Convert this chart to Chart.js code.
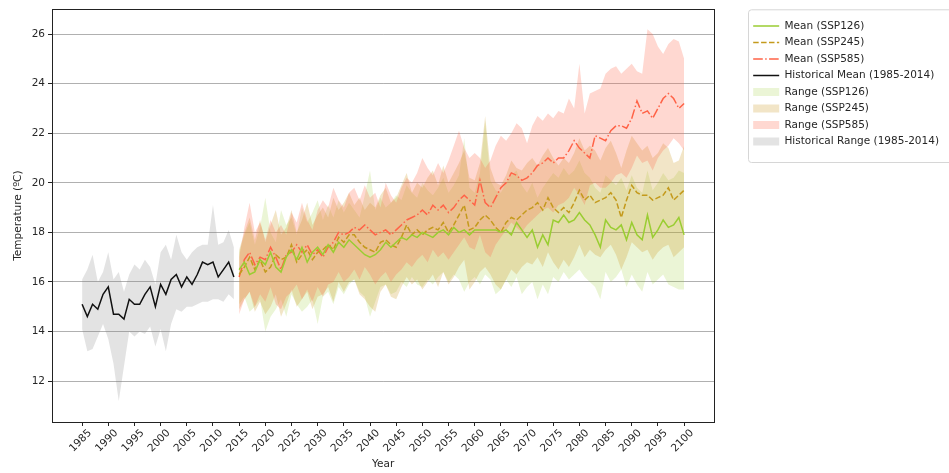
<!DOCTYPE html>
<html>
<head>
<meta charset="utf-8">
<title>Temperature projections</title>
<script src="https://cdn.jsdelivr.net/npm/chart.js@4.4.1/dist/chart.umd.min.js"></script>
<style>
  html, body { margin: 0; padding: 0; background: #fff; }
  #chart { display: block; }
</style>
</head>
<body>
<canvas id="chart" width="949" height="473"></canvas>
<script>
// historical period
const histYears = [1985, 1986, 1987, 1988, 1989, 1990, 1991, 1992, 1993, 1994,
  1995, 1996, 1997, 1998, 1999, 2000, 2001, 2002, 2003, 2004,
  2005, 2006, 2007, 2008, 2009, 2010, 2011, 2012, 2013, 2014];
const histMean = [15.1, 14.6, 15.1, 14.9, 15.5, 15.8, 14.7, 14.7, 14.5, 15.3,
  15.1, 15.1, 15.5, 15.8, 15.0, 15.9, 15.5, 16.1, 16.3, 15.8,
  16.2, 15.9, 16.3, 16.8, 16.7, 16.8, 16.2, 16.5, 16.8, 16.2];
const histHigh = [16.1, 16.5, 17.1, 16.0, 16.4, 17.2, 16.1, 16.4, 15.6, 16.3,
  16.7, 16.5, 16.9, 16.6, 15.9, 17.2, 17.5, 16.9, 17.9, 17.2,
  16.9, 17.2, 17.4, 17.5, 17.5, 19.1, 17.5, 17.6, 18.1, 17.4];
const histLow = [14.1, 13.2, 13.3, 13.8, 14.3, 13.7, 12.7, 11.2, 12.6, 14.0,
  13.8, 14.0, 13.9, 14.2, 13.4, 14.1, 13.2, 14.3, 14.9, 14.8,
  15.0, 15.0, 15.1, 15.2, 15.2, 15.3, 15.3, 15.2, 15.5, 15.3];

// projections
const futureYears = [2015, 2016, 2017, 2018, 2019, 2020, 2021, 2022, 2023, 2024,
  2025, 2026, 2027, 2028, 2029, 2030, 2031, 2032, 2033, 2034,
  2035, 2036, 2037, 2038, 2039, 2040, 2041, 2042, 2043, 2044,
  2045, 2046, 2047, 2048, 2049, 2050, 2051, 2052, 2053, 2054,
  2055, 2056, 2057, 2058, 2059, 2060, 2061, 2062, 2063, 2064,
  2065, 2066, 2067, 2068, 2069, 2070, 2071, 2072, 2073, 2074,
  2075, 2076, 2077, 2078, 2079, 2080, 2081, 2082, 2083, 2084,
  2085, 2086, 2087, 2088, 2089, 2090, 2091, 2092, 2093, 2094,
  2095, 2096, 2097, 2098, 2099, 2100];

const ssp126Mean = [16.5, 16.8, 16.3, 16.4, 16.9, 16.7, 17.2, 16.6, 16.4, 17.0,
  17.3, 16.9, 17.4, 16.8, 17.2, 17.4, 17.1, 17.5, 17.2, 17.6,
  17.4, 17.7, 17.5, 17.3, 17.1, 17.0, 17.1, 17.3, 17.6, 17.4,
  17.6, 17.8, 17.7, 17.9, 17.8, 18.0, 17.9, 17.8, 18.0, 18.1,
  17.9, 18.2, 18.0, 18.1, 17.9, 18.1, 18.1, 18.1, 18.1, 18.1,
  18.0, 18.1, 17.9, 18.4, 18.1, 17.8, 18.1, 17.4, 17.9, 17.5,
  18.5, 18.4, 18.7, 18.4, 18.5, 18.8, 18.5, 18.3, 17.9, 17.4,
  18.5, 18.2, 18.1, 18.3, 17.7, 18.4, 17.9, 17.7, 18.7, 17.8,
  18.1, 18.5, 18.2, 18.3, 18.6, 17.9];
const ssp126High = [17.2, 17.9, 18.4, 17.5, 18.2, 19.4, 18.0, 17.6, 18.9, 18.3,
  18.6, 17.9, 19.0, 18.4, 18.8, 19.3, 18.5, 19.1, 18.6, 19.3,
  18.8, 19.2, 18.9, 18.6, 19.5, 20.5, 18.9, 19.4, 19.0, 19.2,
  19.5, 19.3, 19.9, 19.6, 19.4, 20.0, 19.7, 19.5, 19.8, 20.2,
  19.6, 19.9, 20.3, 21.8, 19.8, 19.6, 20.4, 22.5, 20.1, 19.7,
  19.6, 20.0, 20.3, 20.5, 19.9, 19.6, 20.0, 19.4, 19.8, 20.1,
  20.4, 20.2, 20.6, 20.3, 20.5, 20.9, 20.4, 20.2, 19.8, 19.6,
  20.3, 20.1, 19.9, 20.2, 19.7, 20.3, 19.8, 19.6, 20.5, 19.7,
  20.0, 20.4, 20.1, 20.2, 20.5, 20.4];
const ssp126Low = [15.1, 15.4, 14.8, 15.0, 15.3, 14.0, 14.6, 14.9, 15.3, 14.6,
  15.5, 15.1, 14.8, 15.0, 15.3, 14.3, 15.4, 15.6, 15.1, 15.8,
  15.5, 15.9, 16.1, 15.6, 15.4, 14.6, 15.2, 15.8, 15.9, 15.5,
  15.6, 16.0, 15.8, 16.2, 15.9, 15.8, 16.1, 15.9, 16.2, 16.4,
  16.0, 16.3, 16.1, 15.6, 16.0, 16.2, 15.9, 16.3, 16.1, 15.5,
  15.7, 16.1, 15.8, 16.2, 15.5, 15.8, 16.0, 15.3, 15.9, 15.5,
  16.2, 16.0, 16.4, 16.1, 16.3, 16.5, 16.2, 16.0, 15.8, 15.3,
  16.4, 16.0, 16.2, 16.5, 15.8, 16.3, 15.9, 15.6, 16.4, 15.9,
  16.1, 16.3, 15.9, 15.8, 15.7, 15.7];

const ssp245Mean = [16.3, 16.6, 17.0, 16.5, 16.9, 16.4, 16.6, 17.1, 16.9, 17.0,
  17.5, 16.8, 17.1, 17.3, 16.9, 17.2, 17.3, 17.5, 17.3, 17.8,
  17.6, 17.9, 17.9, 17.6, 17.4, 17.3, 17.2, 17.6, 17.7, 17.5,
  17.4, 17.8, 18.3, 17.9, 18.1, 17.9, 18.1, 18.2, 18.1, 18.4,
  18.0, 18.3, 18.7, 19.1, 18.1, 18.2, 18.5, 18.7, 18.5, 18.2,
  18.0, 18.4, 18.6, 18.5, 18.7, 18.9, 19.0, 19.2, 18.9, 19.4,
  19.0, 18.8, 19.0, 18.8, 19.2, 19.7, 19.3, 19.5, 19.2, 19.3,
  19.4, 19.6, 19.3, 18.6, 19.3, 19.9, 19.6, 19.5, 19.5, 19.3,
  19.4, 19.5, 19.8, 19.3, 19.5, 19.7];
const ssp245High = [17.3, 18.0, 18.6, 17.7, 18.5, 17.6, 18.3, 18.9, 17.9, 18.2,
  18.9, 18.0, 18.5, 19.2, 18.3, 18.7, 19.0, 18.6, 19.4, 18.9,
  19.2, 19.6, 19.1, 19.4, 18.9, 19.2, 19.0, 19.5, 19.8, 19.2,
  19.4, 19.9, 20.4, 19.6, 20.0, 19.8, 20.2, 20.5, 19.9, 20.7,
  20.0, 20.4, 20.8, 21.3, 20.2, 20.1, 20.8, 22.7, 20.6, 20.0,
  19.9, 20.3, 20.9, 20.6, 20.5, 20.8, 21.0, 20.7, 21.1, 21.4,
  21.0, 20.7, 21.0, 20.8, 21.2, 21.8, 21.3, 21.5, 21.3, 20.9,
  21.4, 21.7, 21.2, 20.6, 21.3, 21.9, 21.6, 21.3, 21.5, 21.0,
  21.2, 21.6, 21.4, 20.8, 20.9, 21.5];
const ssp245Low = [14.9, 15.3, 15.6, 14.8, 15.2, 14.7, 15.0, 15.5, 14.6, 15.1,
  15.7, 15.0, 15.3, 15.6, 14.9, 15.4, 15.5, 15.8, 15.2, 16.0,
  15.6, 16.0, 16.1, 15.5, 15.3, 15.0, 14.8, 15.6, 15.9, 15.4,
  15.3, 15.8, 16.2, 15.9, 16.1, 15.7, 16.0, 16.3, 15.8, 16.4,
  15.9, 16.2, 16.6, 16.9, 15.7, 16.0, 16.4, 16.6, 16.3, 15.9,
  15.7, 16.1, 16.5, 16.3, 16.6, 16.8, 16.7, 17.0, 16.6, 17.2,
  16.8, 16.5, 16.9, 16.6, 17.0, 17.5, 17.0, 17.3, 17.1, 17.0,
  17.3, 17.5, 17.1, 16.5, 17.0, 17.6, 17.4, 17.2, 17.3, 16.9,
  17.2, 17.4, 17.5, 17.0, 17.2, 17.4];

const ssp585Mean = [16.2, 16.9, 17.2, 16.7, 17.0, 16.9, 17.4, 17.0, 16.5, 17.1,
  17.2, 17.5, 17.2, 17.5, 17.1, 17.3, 17.0, 17.4, 17.6, 18.0,
  17.9, 18.0, 18.2, 18.1, 18.3, 18.1, 17.9, 18.0, 18.1, 17.9,
  18.1, 18.3, 18.5, 18.6, 18.7, 18.9, 18.7, 19.1, 18.9, 19.1,
  18.8, 19.0, 19.3, 19.5, 19.3, 19.1, 20.1, 19.2, 19.0, 19.4,
  19.8, 20.0, 20.4, 20.3, 20.1, 20.2, 20.4, 20.7, 20.8, 21.0,
  20.8, 21.0, 21.0, 21.3, 21.7, 21.4, 21.2, 21.0, 21.9, 21.8,
  21.7, 22.1, 22.3, 22.3, 22.2, 22.6, 23.3, 22.8, 22.9, 22.6,
  23.0, 23.4, 23.6, 23.4, 23.0, 23.2];
const ssp585High = [17.0, 18.2, 19.2, 18.0, 18.4, 17.7, 18.5, 18.0, 18.3, 17.9,
  18.8, 18.4, 19.2, 18.5, 18.1, 18.9, 19.3, 19.0, 19.8, 19.3,
  19.0, 19.6, 19.8, 19.3, 19.9, 19.4, 19.6, 19.0, 20.0, 19.5,
  19.2, 19.8, 20.2, 20.0, 20.4, 21.0, 20.6, 20.3, 20.8, 20.4,
  20.9, 21.5, 22.1, 21.4, 21.0, 21.2, 21.0, 20.6, 20.9, 21.5,
  21.9, 21.7, 22.0, 22.4, 22.2, 21.6, 22.3, 22.7, 22.5, 22.8,
  22.6, 22.9, 22.8, 23.4, 23.0, 24.8, 22.8, 23.6, 23.7, 23.8,
  24.4, 24.6, 24.7, 24.4, 24.6, 24.8, 24.5, 24.4, 26.2, 26.0,
  25.5, 25.2, 25.6, 25.8, 25.7, 25.0];
const ssp585Low = [14.7, 15.3, 15.6, 15.0, 15.5, 15.2, 15.8, 15.1, 14.9, 15.4,
  15.6, 15.9, 15.3, 15.7, 15.2, 15.8, 15.4, 15.9, 16.0, 16.4,
  16.0, 16.2, 16.5, 16.1, 16.6, 16.3, 15.9, 16.2, 16.4, 16.0,
  16.3, 16.5, 16.8, 16.6, 16.9, 17.1, 16.8, 17.3, 17.0, 17.2,
  16.9, 17.2, 17.5, 17.8, 17.4, 17.3, 17.9, 17.2, 17.0, 17.5,
  17.8, 18.1, 18.4, 18.2, 18.0, 18.3, 18.5, 18.7, 18.9, 19.0,
  18.8, 19.1, 19.2, 19.4, 19.8, 19.5, 19.1, 19.9, 20.0, 19.8,
  19.8, 20.0, 20.3, 20.4, 20.2, 20.6, 21.1, 20.8, 20.9, 20.5,
  21.0, 21.3, 21.5, 21.8, 21.6, 21.3];

const xTicks = [1985, 1990, 1995, 2000, 2005, 2010, 2015, 2020, 2025, 2030, 2035, 2040,
  2045, 2050, 2055, 2060, 2065, 2070, 2075, 2080, 2085, 2090, 2095, 2100];
const yTicks = [12, 14, 16, 18, 20, 22, 24, 26];

const FONT = 'DejaVu Sans';
const TEXT = '#262626';

const toPoints = (years, values) => years.map((yr, i) => ({ x: yr, y: values[i] }));

function meanLine(label, years, values, color, dash, rank) {
  return {
    label: label,
    data: toPoints(years, values),
    borderColor: color,
    backgroundColor: color,
    borderWidth: 1.5,
    borderDash: dash,
    pointRadius: 0,
    tension: 0,
    fill: false,
    legendRank: rank
  };
}

// upper edge fills down to the lower edge that follows it
function rangeBand(label, years, high, low, color, rank) {
  return [{
    label: label,
    data: toPoints(years, high),
    borderColor: 'transparent',
    backgroundColor: color,
    borderWidth: 0,
    pointRadius: 0,
    tension: 0,
    fill: '+1',
    legendRank: rank
  }, {
    label: '',
    data: toPoints(years, low),
    borderColor: 'transparent',
    backgroundColor: 'transparent',
    borderWidth: 0,
    pointRadius: 0,
    tension: 0,
    fill: false
  }];
}

// first dataset is painted last, so lines go first and bands last
const datasets = [
  meanLine('Historical Mean (1985-2014)', histYears, histMean, '#111111', [], 4),
  meanLine('Mean (SSP126)', futureYears, ssp126Mean, '#9acd32', [], 1),
  meanLine('Mean (SSP245)', futureYears, ssp245Mean, '#c49a1c', [5.5, 2.4], 2),
  meanLine('Mean (SSP585)', futureYears, ssp585Mean, '#ff6347', [9.6, 2.4, 1.5, 2.4], 3),
  ...rangeBand('Range (SSP585)', futureYears, ssp585High, ssp585Low, 'rgba(255, 99, 71, 0.25)', 7),
  ...rangeBand('Range (SSP245)', futureYears, ssp245High, ssp245Low, 'rgba(205, 150, 30, 0.25)', 6),
  ...rangeBand('Range (SSP126)', futureYears, ssp126High, ssp126Low, 'rgba(154, 205, 50, 0.2)', 5),
  ...rangeBand('Historical Range (1985-2014)', histYears, histHigh, histLow, 'rgba(128, 128, 128, 0.22)', 8)
];

const axesFrame = {
  id: 'axesFrame',
  afterDatasetsDraw(chart) {
    const { ctx, chartArea: a } = chart;
    ctx.save();
    ctx.strokeStyle = '#222';
    ctx.lineWidth = 1;
    ctx.strokeRect(Math.round(a.left) + 0.5, Math.round(a.top) + 0.5,
      Math.round(a.right - a.left), Math.round(a.bottom - a.top));
    ctx.restore();
  },
  afterDraw(chart) {
    const boxes = chart.legend.legendHitBoxes;
    if (!boxes || !boxes.length) return;
    const last = boxes[boxes.length - 1];
    const x0 = Math.round(boxes[0].left) - 4.5;
    const y0 = chart.chartArea.top + 0.5;
    const y1 = Math.round(last.top + last.height) + 15.5;
    const ctx = chart.ctx;
    ctx.save();
    ctx.strokeStyle = '#d6d6d6';
    ctx.lineWidth = 1;
    ctx.beginPath();
    ctx.roundRect(x0, y0, chart.width + 10 - x0, y1 - y0, 3);
    ctx.stroke();
    ctx.restore();
  }
};

new Chart(document.getElementById('chart'), {
  type: 'line',
  data: { datasets: datasets },
  options: {
    responsive: false,
    animation: false,
    devicePixelRatio: 1,
    layout: { padding: { top: 8, left: 0, right: 0, bottom: 0 } },
    plugins: {
      tooltip: { enabled: false },
      legend: {
        position: 'right',
        align: 'start',
        maxWidth: 260,
        title: { display: true, text: '', padding: 0, font: { size: 5.6 } },
        labels: {
          usePointStyle: true,
          pointStyleWidth: 26,
          boxHeight: 8,
          padding: 6,
          color: TEXT,
          font: { family: FONT, size: 10.5 },
          generateLabels(chart) {
            return chart.data.datasets
              .map((ds, i) => ({ ds, i }))
              .filter(({ ds }) => ds.label)
              .sort((a, b) => a.ds.legendRank - b.ds.legendRank)
              .map(({ ds, i }) => ds.fill ? {
                text: ds.label, datasetIndex: i, fontColor: TEXT,
                fillStyle: ds.backgroundColor, strokeStyle: ds.backgroundColor,
                lineWidth: 0, pointStyle: 'rect'
              } : {
                text: ds.label, datasetIndex: i, fontColor: TEXT,
                fillStyle: ds.borderColor, strokeStyle: ds.borderColor,
                lineWidth: 1.5, lineDash: ds.borderDash, pointStyle: 'line'
              });
          }
        }
      }
    },
    scales: {
      x: {
        type: 'linear',
        min: 1979.25,
        max: 2105.75,
        afterBuildTicks: s => { s.ticks = xTicks.map(v => ({ value: v })); },
        afterFit: s => { s.height = 51; },
        border: { display: false },
        grid: { drawOnChartArea: false, drawTicks: true, tickLength: 4, tickColor: '#222' },
        ticks: {
          color: TEXT,
          font: { family: FONT, size: 10.5 },
          minRotation: 45,
          maxRotation: 45,
          autoSkip: false,
          labelOffset: 8,
          padding: 1,
          callback: v => String(v)
        },
        title: { display: true, text: 'Year', color: TEXT, font: { family: FONT, size: 10.5 }, padding: { top: 0, bottom: 2 } }
      },
      y: {
        type: 'linear',
        min: 10.35,
        max: 27.0,
        z: 1,
        afterBuildTicks: s => { s.ticks = yTicks.map(v => ({ value: v })); },
        afterFit: s => { s.width = 52; },
        border: { display: false },
        grid: { color: '#b0b0b0', lineWidth: 1, tickLength: 4, tickColor: '#222' },
        ticks: { color: TEXT, font: { family: FONT, size: 10.5 }, padding: 3 },
        title: { display: true, text: 'Temperature (ºC)', color: TEXT, font: { family: FONT, size: 10.5 }, padding: { top: 12, bottom: 0 } }
      },
      gap: {
        type: 'linear',
        position: 'right',
        grid: { display: false, drawTicks: false },
        border: { display: false },
        ticks: { display: false },
        afterFit: s => { s.width = 33; }
      }
    }
  },
  plugins: [axesFrame]
});
</script>
</body>
</html>
